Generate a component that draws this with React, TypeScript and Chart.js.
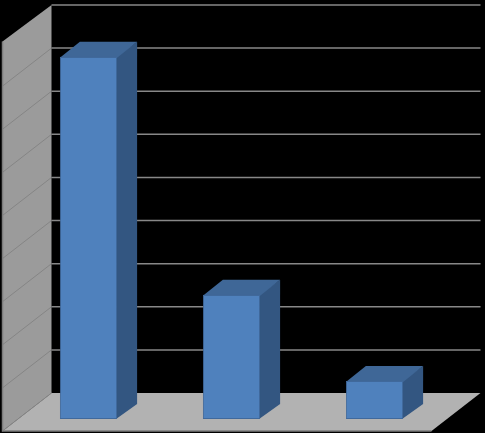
import { useEffect, useRef } from 'react';
import Chart from 'chart.js/auto';

const categories = ['1', '2', '3'];
const values = [84, 28.8, 8.8];
const axisMax = 90;
const axisStep = 10;

// 3D look, offsets from the plane the bars stand on
const backDepth = { x: 34.5, y: -26 };
const frontDepth = { x: -14.5, y: 12 };
const barDepth = { x: 20, y: -15 };
const wallRise = 1.5;

const colors = {
  page: '#000000',
  wall: '#9b9b9b',
  wallLine: '#858585',
  wallEdge: '#7c7c7c',
  floor: '#b2b2b2',
  grid: '#888888',
  barFront: '#4f81bd',
  barBorder: '#40699c',
  barTop: '#3f6797',
  barSide: '#335681',
};

const poly = (ctx: CanvasRenderingContext2D, pts: number[][], fill: string) => {
  ctx.beginPath();
  pts.forEach((p, i) => (i ? ctx.lineTo(p[0], p[1]) : ctx.moveTo(p[0], p[1])));
  ctx.closePath();
  ctx.fillStyle = fill;
  ctx.fill();
};

const box3d = {
  id: 'box3d',
  beforeDatasetsDraw(chart: any) {
    const { ctx, chartArea, scales } = chart;
    const y = scales.y;
    const zero = y.getPixelForValue(0);
    const top = y.getPixelForValue(axisMax);
    const { left, right } = chartArea;

    ctx.save();
    ctx.fillStyle = colors.page;
    ctx.fillRect(0, 0, chart.width, chart.height);

    // floor
    poly(ctx, [
      [left + backDepth.x, zero + backDepth.y],
      [right + backDepth.x, zero + backDepth.y],
      [right + frontDepth.x, zero + frontDepth.y],
      [left + frontDepth.x, zero + frontDepth.y],
    ], colors.floor);

    // left wall
    poly(ctx, [
      [left + frontDepth.x, zero + frontDepth.y],
      [left + backDepth.x, zero + backDepth.y],
      [left + backDepth.x, top + backDepth.y],
      [left + frontDepth.x, top + frontDepth.y - wallRise],
    ], colors.wall);

    // grid on the wall and back plane
    y.ticks.forEach((t: any) => {
      const py = y.getPixelForValue(t.value);
      if (t.value < axisMax) {
        ctx.lineWidth = 1;
        ctx.strokeStyle = colors.wallLine;
        ctx.beginPath();
        ctx.moveTo(left + frontDepth.x, py + frontDepth.y);
        ctx.lineTo(left + backDepth.x, py + backDepth.y);
        ctx.stroke();
      }
      if (t.value > 0) {
        ctx.lineWidth = 1.5;
        ctx.strokeStyle = colors.grid;
        ctx.beginPath();
        ctx.moveTo(left + backDepth.x, py + backDepth.y);
        ctx.lineTo(right + backDepth.x, py + backDepth.y);
        ctx.stroke();
      }
    });

    // front edges
    ctx.lineWidth = 1.5;
    ctx.strokeStyle = colors.wallEdge;
    ctx.beginPath();
    ctx.moveTo(left + frontDepth.x, top + frontDepth.y - wallRise);
    ctx.lineTo(left + frontDepth.x, zero + frontDepth.y);
    ctx.lineTo(right + frontDepth.x, zero + frontDepth.y);
    ctx.stroke();

    // bar sides and tops, tucked 1px under the front face
    chart.getDatasetMeta(0).data.forEach((bar: any) => {
      const l = bar.x - bar.width / 2;
      const r = bar.x + bar.width / 2;
      const t = bar.y;
      const b = bar.base;
      poly(ctx, [
        [r - 1, t],
        [r + barDepth.x, t + barDepth.y],
        [r + barDepth.x, b + barDepth.y],
        [r - 1, b],
      ], colors.barSide);
      poly(ctx, [
        [l, t + 1],
        [l + barDepth.x, t + barDepth.y],
        [r + barDepth.x, t + barDepth.y],
        [r, t + 1],
      ], colors.barTop);
    });
    ctx.restore();
  },
};

export default function App() {
  const chartRef = useRef<HTMLCanvasElement | null>(null);

  useEffect(() => {
    if (!chartRef.current) return;
    const chart = new Chart(chartRef.current, {
      type: 'bar',
      data: {
        labels: categories,
        datasets: [{
          data: values,
          backgroundColor: colors.barFront,
          borderColor: colors.barBorder,
          borderWidth: 1,
          borderSkipped: false,
          barPercentage: 0.4,
          categoryPercentage: 1,
        }],
      },
      options: {
        responsive: false,
        animation: false,
        layout: { padding: { left: 17, right: 39, top: 31, bottom: 14 } },
        plugins: { legend: { display: false }, tooltip: { enabled: false } },
        scales: {
          x: { display: false },
          y: { display: false, min: 0, max: axisMax, ticks: { stepSize: axisStep } },
        },
      },
      plugins: [box3d],
    });
    return () => chart.destroy();
  }, []);

  return (
    <div style={{ position: 'absolute', left: 0, top: 0, width: 485, height: 433, background: colors.page }}>
      <canvas ref={chartRef} width={485} height={433} style={{ display: 'block' }}></canvas>
    </div>
  );
}
